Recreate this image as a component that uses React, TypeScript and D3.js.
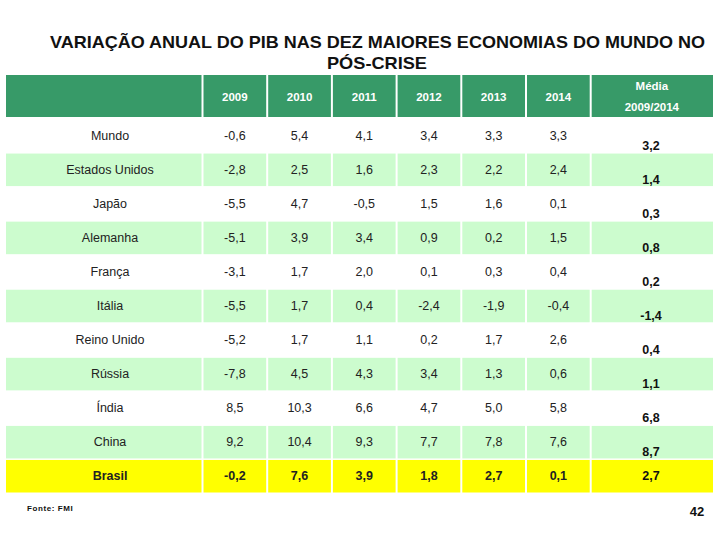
import React from "react";
import * as d3 from "d3";

const titleLines = ["VARIAÇÃO ANUAL DO PIB NAS DEZ MAIORES ECONOMIAS DO MUNDO NO", "PÓS-CRISE"];
const years = ["2009", "2010", "2011", "2012", "2013", "2014"];
const avgHeader = ["Média", "2009/2014"];
const countries = ["Mundo", "Estados Unidos", "Japão", "Alemanha", "França", "Itália", "Reino Unido", "Rússia", "Índia", "China", "Brasil"];
const values: string[][] = [
  ["-0,6", "5,4", "4,1", "3,4", "3,3", "3,3"],
  ["-2,8", "2,5", "1,6", "2,3", "2,2", "2,4"],
  ["-5,5", "4,7", "-0,5", "1,5", "1,6", "0,1"],
  ["-5,1", "3,9", "3,4", "0,9", "0,2", "1,5"],
  ["-3,1", "1,7", "2,0", "0,1", "0,3", "0,4"],
  ["-5,5", "1,7", "0,4", "-2,4", "-1,9", "-0,4"],
  ["-5,2", "1,7", "1,1", "0,2", "1,7", "2,6"],
  ["-7,8", "4,5", "4,3", "3,4", "1,3", "0,6"],
  ["8,5", "10,3", "6,6", "4,7", "5,0", "5,8"],
  ["9,2", "10,4", "9,3", "7,7", "7,8", "7,6"],
  ["-0,2", "7,6", "3,9", "1,8", "2,7", "0,1"],
];
const averages = ["3,2", "1,4", "0,3", "0,8", "0,2", "-1,4", "0,4", "1,1", "6,8", "8,7", "2,7"];
const source = "Fonte: FMI";
const pageNumber = "42";

const GREEN = "#379a68";
const LIGHT = "#ccfcce";
const YELLOW = "#ffff00";
const FONT = "Liberation Sans, Arial, sans-serif";

export default function App() {
  const W = 720, H = 540;
  const left = 6, right = 713;
  const labelEnd = 202.5;
  const avgStart = 590.7;
  const x = d3.scaleBand<string>().domain(years).range([labelEnd, avgStart]);
  const y = d3.scaleBand<string>().domain(countries).range([118.5, 493]);
  const headerTop = 75, headerBottom = 117;
  const gap = 1;
  const cols: { x0: number; x1: number }[] = [
    { x0: left, x1: labelEnd },
    ...years.map((yr) => ({ x0: x(yr)!, x1: x(yr)! + x.bandwidth() })),
    { x0: avgStart, x1: right },
  ];
  const hb = (headerTop + headerBottom) / 2;
  return (
    <svg width={W} height={H} style={{ position: "absolute", left: 0, top: 0, background: "#fff" }} fontFamily={FONT}>
      <rect width={W} height={H} fill="#fff" />
      <text x={377.5} y={48} textAnchor="middle" fontSize={17} fontWeight="bold" fill="#111" textLength={655} lengthAdjust="spacingAndGlyphs">{titleLines[0]}</text>
      <text x={377} y={69} textAnchor="middle" fontSize={17} fontWeight="bold" fill="#111" textLength={100} lengthAdjust="spacingAndGlyphs">{titleLines[1]}</text>
      {cols.map((c, i) => (
        <rect key={"h" + i} x={c.x0 + (i === 0 ? 0 : gap)} y={headerTop} width={c.x1 - c.x0 - (i === 0 ? gap : 2 * gap) + (i === cols.length - 1 ? gap : 0)} height={headerBottom - headerTop} fill={GREEN} />
      ))}
      {years.map((yr) => (
        <text key={yr} x={x(yr)! + x.bandwidth() / 2} y={hb + 4.5} textAnchor="middle" fontSize={11.5} fontWeight="bold" fill="#fff">{yr}</text>
      ))}
      <text x={(avgStart + right) / 2} y={89.5} textAnchor="middle" fontSize={11.5} fontWeight="bold" fill="#fff">{avgHeader[0]}</text>
      <text x={(avgStart + right) / 2} y={111} textAnchor="middle" fontSize={11.5} fontWeight="bold" fill="#fff">{avgHeader[1]}</text>
      {countries.map((c, r) => {
        const y0 = y(c)!;
        const bh = y.bandwidth();
        const isBr = c === "Brasil";
        const fill = isBr ? YELLOW : r % 2 === 1 ? LIGHT : "#fff";
        const cy = y0 + bh / 2;
        return (
          <g key={c}>
            {cols.map((col, i) => (
              <rect key={i} x={col.x0 + (i === 0 ? 0 : gap)} y={y0 + 1} width={col.x1 - col.x0 - (i === 0 ? gap : 2 * gap) + (i === cols.length - 1 ? gap : 0)} height={bh - 1.5} fill={fill} />
            ))}
            <text x={110} y={cy + 4.5} textAnchor="middle" fontSize={12.5} fontWeight={isBr ? "bold" : "normal"} fill="#222">{c}</text>
            {values[r].map((v, j) => (
              <text key={j} x={x(years[j])! + x.bandwidth() / 2} y={cy + 4.5} textAnchor="middle" fontSize={12.5} fontWeight={isBr ? "bold" : "normal"} fill="#222">{v}</text>
            ))}
            <text x={651} y={isBr ? cy + 4.5 : y0 + bh - 2.5} textAnchor="middle" fontSize={12.5} fontWeight="bold" fill="#111">{averages[r]}</text>
          </g>
        );
      })}
      <text x={27} y={511} fontSize={8} fontWeight="bold" letterSpacing={0.6} fill="#111">{source}</text>
      <text x={697} y={516} textAnchor="middle" fontSize={13} fontWeight="bold" fill="#111">{pageNumber}</text>
    </svg>
  );
}
